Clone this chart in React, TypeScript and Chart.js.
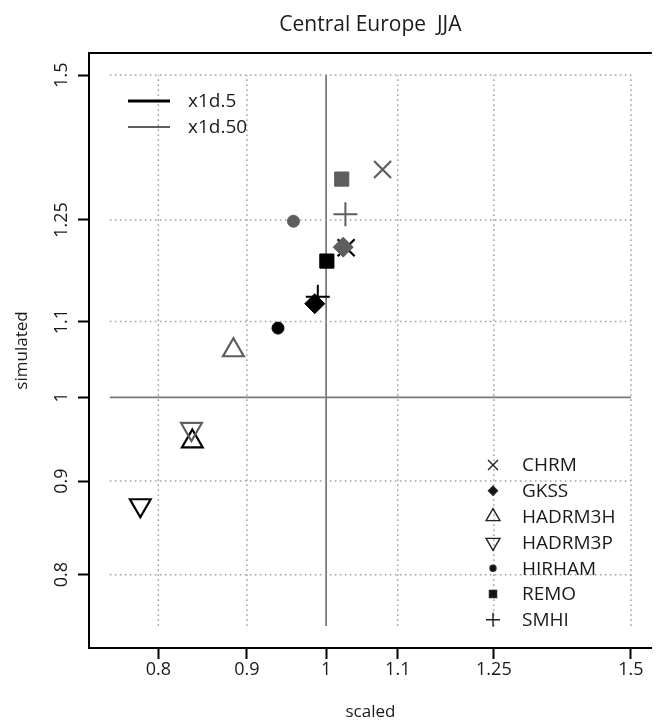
import React, { useEffect, useRef } from 'react';
import { Chart, registerables } from 'chart.js';

Chart.register(...registerables);

// ---------- data ----------
const TITLE = 'Central Europe  JJA';
const X_TITLE = 'scaled';
const Y_TITLE = 'simulated';

const X_TICKS = [0.8, 0.9, 1, 1.1, 1.25, 1.5];
const X_TICK_LABELS = ['0.8', '0.9', '1', '1.1', '1.25', '1.5'];
const Y_TICKS = [0.8, 0.9, 1, 1.1, 1.25, 1.5];
const Y_TICK_LABELS = ['0.8', '0.9', '1', '1.1', '1.25', '1.5'];

const AXIS_MIN = 0.7295;
const AXIS_MAX = 1.5422;

const GRID_VALUES = [0.8, 0.9, 1.1, 1.25, 1.5];
const REF_VALUE = 1;
const LINE_FROM = 0.75;
const LINE_TO = 1.5;

const RUNS = ['x1d.5', 'x1d.50'];
const MODELS = ['CHRM', 'GKSS', 'HADRM3H', 'HADRM3P', 'HIRHAM', 'REMO', 'SMHI'];

const X1D5_SCALED = [1.027, 0.985, 0.837, 0.781, 0.938, 1.001, 0.989];
const X1D5_SIMULATED = [1.207, 1.125, 0.946, 0.873, 1.091, 1.187, 1.135];
const X1D50_SCALED = [1.078, 1.023, 0.884, 0.836, 0.9575, 1.021, 1.026];
const X1D50_SIMULATED = [1.332, 1.208, 1.061, 0.961, 1.248, 1.316, 1.259];

// ---------- styles ----------
const FONT = '"Open Sans", "DejaVu Sans", sans-serif';
const BLACK = '#000000';
const GRAY = '#5e5e5e';
const RUN_COLORS = [BLACK, GRAY];
const RUN_LINE_WIDTHS = [3, 2.2];

const MARKER_STYLES = ['crossRot', 'rectRot', 'triangle', 'triangle', 'circle', 'rect', 'cross'];
const MARKER_ROTATIONS = [0, 0, 0, 180, 0, 0, 0];
const MARKER_RADII = [12, 10, 12, 12, 6, 10, 12];
const MARKER_FILLED = [false, true, false, false, true, true, false];
const MARKER_BORDER = [2.2, 1, 2.2, 2.2, 1, 1, 2];

const LEGEND_RADII = [7, 4.5, 8, 8, 3, 5, 7];

function drawSymbol(ctx: CanvasRenderingContext2D, style: string, x: number, y: number, r: number, rot: number, filled: boolean) {
  ctx.beginPath();
  if (style === 'crossRot') {
    const o = r * Math.SQRT1_2;
    ctx.moveTo(x - o, y - o); ctx.lineTo(x + o, y + o);
    ctx.moveTo(x + o, y - o); ctx.lineTo(x - o, y + o);
    ctx.stroke();
    return;
  }
  if (style === 'cross') {
    ctx.moveTo(x - r, y); ctx.lineTo(x + r, y);
    ctx.moveTo(x, y - r); ctx.lineTo(x, y + r);
    ctx.stroke();
    return;
  }
  if (style === 'rectRot') {
    ctx.moveTo(x, y - r); ctx.lineTo(x + r, y); ctx.lineTo(x, y + r); ctx.lineTo(x - r, y); ctx.closePath();
  } else if (style === 'rect') {
    const s = r * Math.SQRT1_2;
    ctx.rect(x - s, y - s, 2 * s, 2 * s);
  } else if (style === 'circle') {
    ctx.arc(x, y, r, 0, Math.PI * 2);
  } else if (style === 'triangle') {
    let a = (rot * Math.PI) / 180;
    ctx.moveTo(x + Math.sin(a) * r, y - Math.cos(a) * r);
    a += (2 * Math.PI) / 3;
    ctx.lineTo(x + Math.sin(a) * r, y - Math.cos(a) * r);
    a += (2 * Math.PI) / 3;
    ctx.lineTo(x + Math.sin(a) * r, y - Math.cos(a) * r);
    ctx.closePath();
  }
  if (filled) ctx.fill();
  ctx.stroke();
}

const decorPlugin = {
  id: 'decor',
  afterDraw(chart: any) {
    const { ctx, chartArea: ca, scales } = chart;
    const xs = scales.x;
    const ys = scales.y;
    ctx.save();

    // top frame line
    ctx.strokeStyle = '#000';
    ctx.lineWidth = 2;
    ctx.beginPath();
    ctx.moveTo(ca.left - 1, ca.top);
    ctx.lineTo(ca.right, ca.top);
    ctx.stroke();

    // title
    const cx = (ca.left + ca.right) / 2;
    ctx.fillStyle = '#1a1a1a';
    ctx.textAlign = 'center';
    ctx.textBaseline = 'middle';
    ctx.font = `21px ${FONT}`;
    ctx.fillText(TITLE, cx, 25);

    // tick labels
    ctx.font = `18px ${FONT}`;
    X_TICKS.forEach((v, i) => ctx.fillText(X_TICK_LABELS[i], xs.getPixelForValue(v), 670));
    Y_TICKS.forEach((v, i) => {
      const py = ys.getPixelForValue(v);
      ctx.save();
      ctx.translate(62, py);
      ctx.rotate(-Math.PI / 2);
      ctx.fillText(Y_TICK_LABELS[i], 0, 0);
      ctx.restore();
    });

    // axis titles
    ctx.font = `17px ${FONT}`;
    ctx.fillText(X_TITLE, cx, 712);
    ctx.save();
    ctx.translate(22, (ca.top + ca.bottom) / 2);
    ctx.rotate(-Math.PI / 2);
    ctx.fillText(Y_TITLE, 0, 0);
    ctx.restore();

    // run legend (top-left)
    ctx.font = `19px ${FONT}`;
    ctx.textAlign = 'left';
    RUNS.forEach((name, i) => {
      const y = 101 + i * 26;
      ctx.strokeStyle = RUN_COLORS[i];
      ctx.lineWidth = RUN_LINE_WIDTHS[i];
      ctx.beginPath();
      ctx.moveTo(128, y);
      ctx.lineTo(170, y);
      ctx.stroke();
      ctx.fillStyle = '#1a1a1a';
      ctx.fillText(name, 188, y + 1);
    });

    // model legend (bottom-right)
    MODELS.forEach((name, i) => {
      const y = 465 + i * 25.8;
      ctx.strokeStyle = '#222';
      ctx.fillStyle = '#111';
      ctx.lineWidth = 1.4;
      drawSymbol(ctx, MARKER_STYLES[i], 493, y, LEGEND_RADII[i], MARKER_ROTATIONS[i], MARKER_FILLED[i]);
      ctx.fillStyle = '#1a1a1a';
      ctx.fillText(name, 522, y + 1);
    });

    ctx.restore();
  },
};

function lineDataset(points: { x: number; y: number }[], color: string, width: number, dash: number[]) {
  return {
    data: points,
    showLine: true,
    borderColor: color,
    borderWidth: width,
    borderDash: dash,
    pointRadius: 0,
    fill: false,
    order: 10,
  };
}

function pointDataset(label: string, xs: number[], ys: number[], color: string, order: number) {
  return {
    label,
    data: xs.map((x, i) => ({ x, y: ys[i] })),
    showLine: false,
    pointStyle: MARKER_STYLES,
    pointRotation: MARKER_ROTATIONS,
    pointRadius: MARKER_RADII,
    pointBorderWidth: MARKER_BORDER,
    pointBorderColor: color,
    pointBackgroundColor: MARKER_FILLED.map((f) => (f ? color : 'rgba(0,0,0,0)')),
    order,
  };
}

export default function App() {
  const ref = useRef<HTMLCanvasElement | null>(null);

  useEffect(() => {
    if (!ref.current) return;
    const datasets: any[] = [];
    GRID_VALUES.forEach((v) => {
      datasets.push(lineDataset([{ x: LINE_FROM, y: v }, { x: LINE_TO, y: v }], '#a0a0a0', 1.4, [1.6, 3.4]));
      datasets.push(lineDataset([{ x: v, y: LINE_FROM }, { x: v, y: LINE_TO }], '#a0a0a0', 1.4, [1.6, 3.4]));
    });
    datasets.push(lineDataset([{ x: LINE_FROM, y: REF_VALUE }, { x: LINE_TO, y: REF_VALUE }], '#7a7a7a', 1.8, []));
    datasets.push(lineDataset([{ x: REF_VALUE, y: LINE_FROM }, { x: REF_VALUE, y: LINE_TO }], '#7a7a7a', 1.8, []));
    datasets.push(pointDataset(RUNS[0], X1D5_SCALED, X1D5_SIMULATED, RUN_COLORS[0], 2));
    datasets.push(pointDataset(RUNS[1], X1D50_SCALED, X1D50_SIMULATED, RUN_COLORS[1], 1));

    const axis = (ticks: number[], size: 'w' | 'h') => ({
      type: 'logarithmic' as const,
      min: AXIS_MIN,
      max: AXIS_MAX,
      bounds: 'data' as const,
      afterBuildTicks: (scale: any) => {
        scale.ticks = ticks.map((v) => ({ value: v }));
      },
      afterFit: (scale: any) => {
        if (size === 'w') scale.width = 89;
        else scale.height = 75;
        scale.paddingLeft = 0;
        scale.paddingRight = 0;
        scale.paddingTop = 0;
        scale.paddingBottom = 0;
      },
      ticks: { display: false },
      grid: {
        display: true,
        drawOnChartArea: false,
        drawTicks: true,
        tickLength: 11,
        tickColor: '#000',
        tickWidth: 2,
      },
      border: { display: true, color: '#000', width: 2 },
    });

    const chart = new Chart(ref.current, {
      type: 'scatter',
      data: { datasets },
      options: {
        animation: false,
        responsive: false,
        devicePixelRatio: 1,
        events: [],
        layout: { padding: { top: 53, left: 0, right: 0, bottom: 0 } },
        plugins: { legend: { display: false }, tooltip: { enabled: false }, title: { display: false } },
        scales: {
          x: { ...axis(X_TICKS, 'h'), position: 'bottom' },
          y: { ...axis(Y_TICKS, 'w'), position: 'left' },
        },
      },
      plugins: [decorPlugin],
    });
    return () => chart.destroy();
  }, []);

  return (
    <div style={{ position: 'absolute', left: 0, top: 0, width: 666, height: 723, background: '#fff' }}>
      <canvas ref={ref} width={666} height={723} style={{ display: 'block' }} />
    </div>
  );
}
